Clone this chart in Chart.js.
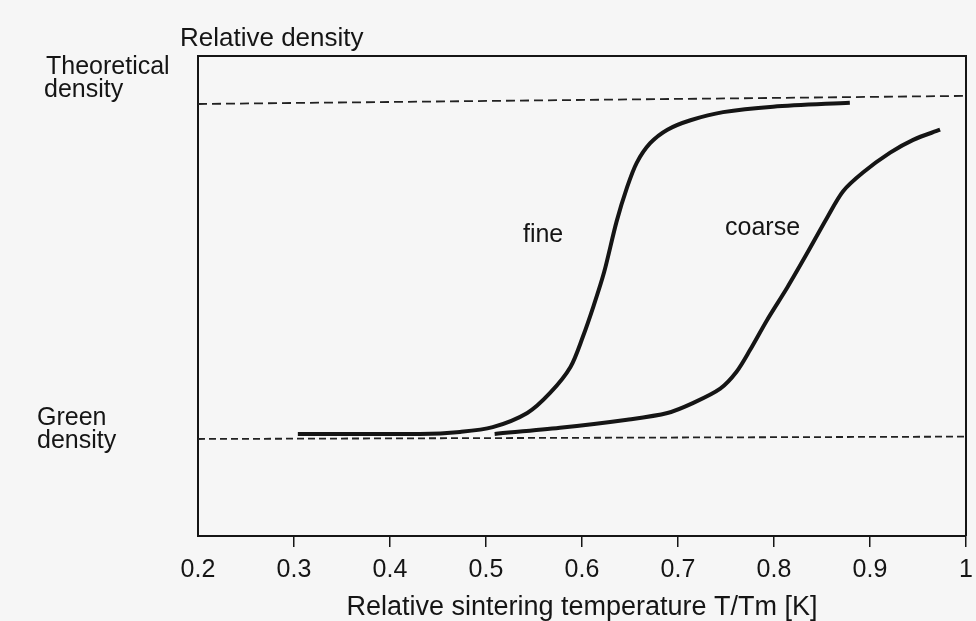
<!DOCTYPE html>
<html>
<head>
<meta charset="utf-8">
<title>Relative density vs. sintering temperature</title>
<script src="https://cdn.jsdelivr.net/npm/chart.js@4/dist/chart.umd.min.js"></script>
<style>
  html, body { margin: 0; padding: 0; background: #f6f6f6; }
  #wrap { width: 976px; height: 621px; position: relative; }
</style>
</head>
<body>
<div id="wrap"><canvas id="c" width="976" height="621"></canvas></div>
<script>
// Relative sintering temperature T/Tm (x) and relative density (y)
const xTickLabels = ['0.2', '0.3', '0.4', '0.5', '0.6', '0.7', '0.8', '0.9', '1'];

// fine powder
const fineT       = [0.304, 0.431, 0.473, 0.507, 0.543, 0.567, 0.588, 0.601, 0.612, 0.623, 0.636, 0.647, 0.657, 0.671, 0.689, 0.713, 0.747, 0.799, 0.879];
const fineDensity = [0.506, 0.506, 0.509, 0.516, 0.537, 0.567, 0.605, 0.650, 0.695, 0.745, 0.820, 0.871, 0.907, 0.936, 0.956, 0.970, 0.982, 0.990, 0.996];

// coarse powder
const coarseT       = [0.509, 0.577, 0.647, 0.689, 0.716, 0.744, 0.761, 0.775, 0.793, 0.814, 0.834, 0.855, 0.872, 0.893, 0.921, 0.945, 0.973];
const coarseDensity = [0.506, 0.515, 0.527, 0.537, 0.552, 0.573, 0.598, 0.630, 0.675, 0.723, 0.772, 0.825, 0.865, 0.893, 0.922, 0.941, 0.956];

// reference levels
const levelT             = [0.2, 1.0];
const theoreticalDensity = [0.994, 1.006];
const greenDensity       = [0.4985, 0.502];

// text drawn on the figure
const yAxisTitle       = 'Relative density';
const xAxisTitle       = 'Relative sintering temperature T/Tm [K]';
const theoreticalLabel = ['Theoretical', 'density'];
const greenLabel       = ['Green', 'density'];
const curveLabels      = [
  { text: 'fine',   t: 0.5385, d: 0.790 },
  { text: 'coarse', t: 0.7490, d: 0.800 }
];

const FONT = '"Liberation Sans", Arial, Helvetica, sans-serif';
const INK = '#151515';

const pts = (xs, ys) => xs.map((x, i) => ({ x, y: ys[i] }));

// frame around the plot area and the free-standing text
const figureText = {
  id: 'figureText',
  afterDraw(chart) {
    const { ctx, chartArea: a, scales: { x, y } } = chart;
    ctx.save();
    ctx.strokeStyle = INK;
    ctx.lineWidth = 2;
    ctx.beginPath();
    ctx.moveTo(a.left, a.top);
    ctx.lineTo(a.right, a.top);
    ctx.lineTo(a.right, a.bottom);
    ctx.stroke();

    ctx.fillStyle = INK;
    ctx.textAlign = 'left';
    ctx.textBaseline = 'alphabetic';

    ctx.font = '26px ' + FONT;
    ctx.fillText(yAxisTitle, a.left - 18, a.top - 10);

    ctx.font = '25px ' + FONT;
    const yTheo = y.getPixelForValue(theoreticalDensity[0]);
    ctx.fillText(theoreticalLabel[0], 46, yTheo - 30);
    ctx.fillText(theoreticalLabel[1], 44, yTheo - 7);

    const yGreen = y.getPixelForValue(greenDensity[0]);
    ctx.fillText(greenLabel[0], 37, yGreen - 14);
    ctx.fillText(greenLabel[1], 37, yGreen + 9);

    curveLabels.forEach(l => {
      ctx.fillText(l.text, x.getPixelForValue(l.t), y.getPixelForValue(l.d));
    });
    ctx.restore();
  }
};

const curveStyle = {
  borderColor: INK,
  borderWidth: 4,
  pointRadius: 0,
  fill: false,
  tension: 0.3,
  borderCapStyle: 'butt'
};

new Chart(document.getElementById('c'), {
  type: 'line',
  data: {
    datasets: [
      { label: 'theoretical', data: pts(levelT, theoreticalDensity), borderColor: '#222', borderWidth: 1.8, borderDash: [9, 5], pointRadius: 0, fill: false },
      { label: 'green', data: pts(levelT, greenDensity), borderColor: '#222', borderWidth: 1.8, borderDash: [7, 4], pointRadius: 0, fill: false },
      Object.assign({ label: 'fine', data: pts(fineT, fineDensity) }, curveStyle),
      Object.assign({ label: 'coarse', data: pts(coarseT, coarseDensity) }, curveStyle)
    ]
  },
  options: {
    responsive: false,
    animation: false,
    events: [],
    layout: { padding: { left: 198, top: 56, right: 10, bottom: 0 } },
    plugins: { legend: { display: false }, tooltip: { enabled: false }, title: { display: false } },
    scales: {
      x: {
        type: 'linear',
        min: 0.2,
        max: 1.0,
        afterFit(scale) {
          scale.height = 85;
          scale.paddingLeft = 0;
          scale.paddingRight = 0;
        },
        afterBuildTicks(scale) {
          scale.ticks = xTickLabels.map(s => ({ value: parseFloat(s) }));
        },
        ticks: {
          callback: (v, i) => xTickLabels[i],
          color: INK,
          font: { family: FONT, size: 25, lineHeight: 1 },
          padding: 11,
          maxRotation: 0,
          autoSkip: false
        },
        grid: {
          drawOnChartArea: false,
          drawTicks: true,
          tickLength: 11,
          lineWidth: 1.5,
          color: ctx => (ctx.index === 0 ? 'rgba(0,0,0,0)' : INK)
        },
        border: { display: true, color: INK, width: 2 },
        title: {
          display: true,
          text: xAxisTitle,
          color: INK,
          font: { family: FONT, size: 27, lineHeight: 1 },
          padding: { top: 0, bottom: 0 }
        }
      },
      y: {
        type: 'linear',
        min: 0.355,
        max: 1.065,
        afterFit(scale) { scale.width = 0; },
        ticks: { display: false },
        grid: { display: false },
        border: { display: true, color: INK, width: 2 }
      }
    }
  },
  plugins: [figureText]
});
</script>
</body>
</html>
